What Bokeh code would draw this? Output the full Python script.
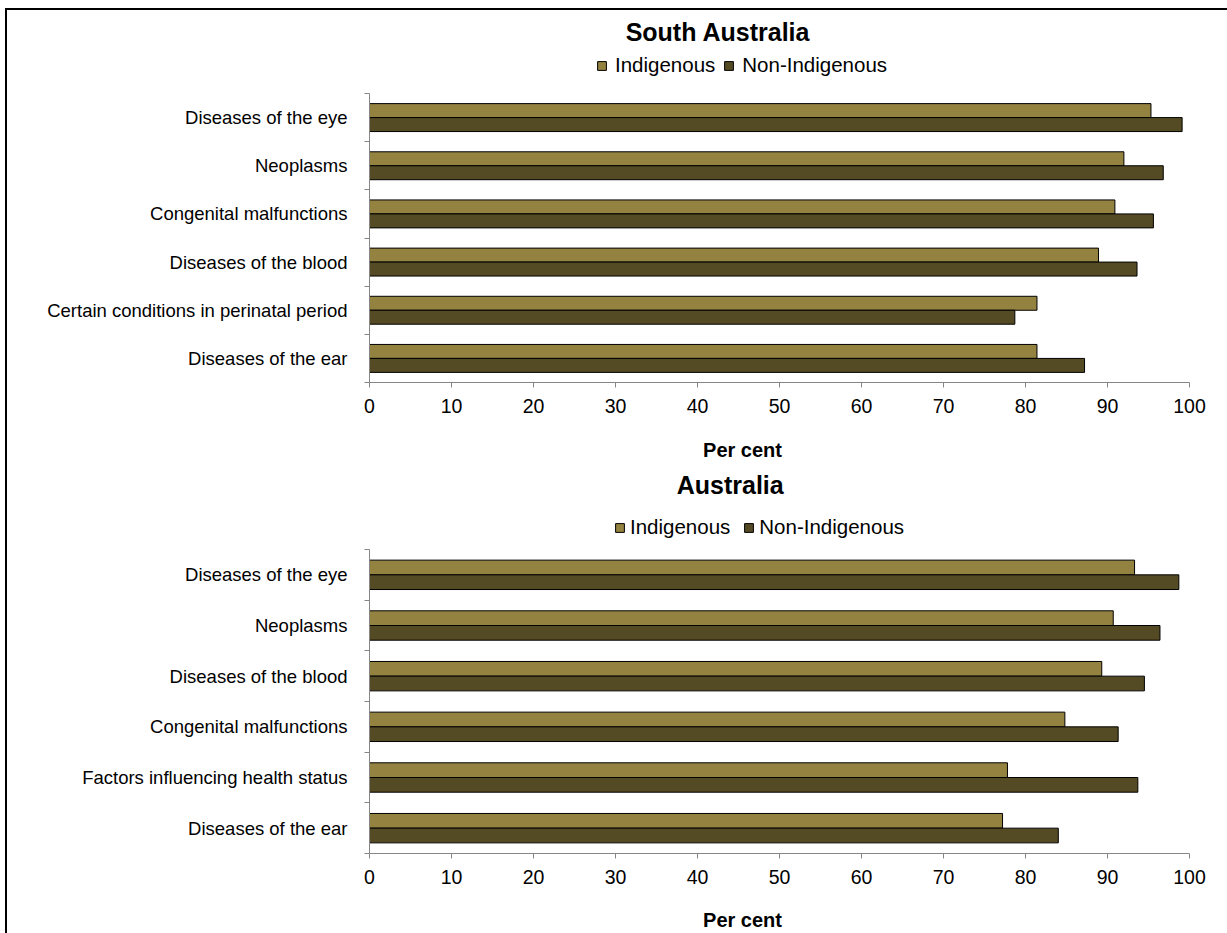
from bokeh.plotting import figure
from bokeh.models import (Range1d, FixedTicker, Label, Legend, LegendItem,
                          ColumnDataSource)
from bokeh.transform import dodge
from bokeh.layouts import column
from bokeh.embed import file_html
from bokeh.resources import INLINE

# ---------------- data ----------------
series = ["Indigenous", "Non-Indigenous"]

sa_title = "South Australia"
sa_categories = ["Diseases of the eye", "Neoplasms", "Congenital malfunctions",
                 "Diseases of the blood", "Certain conditions in perinatal period",
                 "Diseases of the ear"]
sa_indigenous = [95.3, 92.0, 90.9, 88.9, 81.4, 81.4]
sa_non_indigenous = [99.1, 96.8, 95.6, 93.6, 78.7, 87.2]

au_title = "Australia"
au_categories = ["Diseases of the eye", "Neoplasms", "Diseases of the blood",
                 "Congenital malfunctions", "Factors influencing health status",
                 "Diseases of the ear"]
au_indigenous = [93.3, 90.7, 89.3, 84.8, 77.8, 77.2]
au_non_indigenous = [98.7, 96.4, 94.5, 91.3, 93.7, 84.0]

x_ticks = [0, 10, 20, 30, 40, 50, 60, 70, 80, 90, 100]
x_label = "Per cent"

IND_COLOR = "#948240"
NON_COLOR = "#544A24"
AXIS_COLOR = "#868686"
FONT = "Liberation Sans"
FIG_W = 1220


def make_chart(title, cats, ind, non, g):
    n = len(cats)
    # slot centre of each category: first category at the top
    slot = [n - 0.5 - i for i in range(n)]
    src = ColumnDataSource(dict(cat=cats, slot=slot, ind=ind, non=non))
    frame_h = g["H"] - g["bottom"]
    y_end = n * frame_h / g["plot_h"]   # extra room above the bars for title/legend
    p = figure(width=FIG_W, height=g["H"],
               x_range=Range1d(0, 100), y_range=Range1d(0, y_end),
               title=None, output_backend="svg", toolbar_location=None,
               min_border_left=g["left"], min_border_right=FIG_W - g["left"] - g["plot_w"],
               min_border_top=0, min_border_bottom=g["bottom"],
               outline_line_color=None, background_fill_color="white",
               border_fill_color="white")
    p.grid.visible = False

    r1 = p.hbar(y=dodge("slot", 0.145), left=0, right="ind",
                height=0.29, source=src, fill_color=IND_COLOR,
                line_color="black", line_width=1)
    r2 = p.hbar(y=dodge("slot", -0.145), left=0, right="non",
                height=0.29, source=src, fill_color=NON_COLOR,
                line_color="black", line_width=1)

    # x axis
    xa = p.xaxis[0]
    xa.ticker = FixedTicker(ticks=x_ticks)
    xa.axis_line_color = AXIS_COLOR
    xa.major_tick_line_color = AXIS_COLOR
    xa.major_tick_out = 5
    xa.major_tick_in = 0
    xa.minor_tick_line_color = None
    xa.major_label_text_font = FONT
    xa.major_label_text_font_size = "19.5px"
    xa.major_label_text_color = "black"
    xa.major_label_standoff = 11

    # y axis: labels at category centres, small ticks at category boundaries
    ya = p.yaxis[0]
    ya.bounds = (0, n)
    ya.ticker = FixedTicker(ticks=slot, minor_ticks=list(range(n + 1)))
    ya.major_label_overrides = {s: c for s, c in zip(slot, cats)}
    ya.axis_line_color = AXIS_COLOR
    ya.major_tick_line_color = None
    ya.major_tick_out = 0
    ya.major_tick_in = 0
    ya.minor_tick_line_color = AXIS_COLOR
    ya.minor_tick_out = 5
    ya.minor_tick_in = 0
    ya.major_label_text_font = FONT
    ya.major_label_text_font_size = "18.5px"
    ya.major_label_text_color = "black"
    ya.major_label_standoff = 17

    legend = Legend(items=[LegendItem(label=series[0], renderers=[r1]),
                           LegendItem(label=series[1], renderers=[r2])],
                    location=g["legend"], orientation="horizontal",
                    glyph_width=11, glyph_height=11,
                    label_standoff=g["ls"], spacing=g["sp"],
                    padding=0, margin=0, border_line_color=None,
                    background_fill_alpha=0,
                    label_text_font=FONT, label_text_font_size="20.5px",
                    label_text_color="black",
                    label_height=20, label_width=10)
    p.add_layout(legend)

    p.add_layout(Label(x=g["tx"], y=g["ty"], x_units="canvas", y_units="canvas",
                       text=title, text_font=FONT, text_font_style="bold",
                       text_font_size="25px", text_align="center",
                       text_baseline="alphabetic", text_color="black"))
    return p


def make_caption(text, g):
    # thin strip under a chart that carries its x-axis title
    c = figure(width=FIG_W, height=g["cap_h"], x_range=Range1d(0, 1), y_range=Range1d(0, 1),
               title=None, output_backend="svg", toolbar_location=None,
               x_axis_location=None, y_axis_location=None,
               min_border=0, outline_line_color=None,
               background_fill_color="white", border_fill_color="white")
    c.grid.visible = False
    c.add_layout(Label(x=g["px"], y=g["py"], x_units="canvas", y_units="canvas",
                       text=text, text_font=FONT, text_font_style="bold",
                       text_font_size="20px", text_align="center",
                       text_baseline="alphabetic", text_color="black"))
    return c


g_top = dict(H=420, plot_h=289, plot_w=820, left=362, bottom=48,
             tx=710.5, ty=21, legend=(227, 305), ls=8, sp=8,
             cap_h=36, px=735, py=19.5)
g_bot = dict(H=431, plot_h=304, plot_w=822, left=360, bottom=44,
             tx=722.7, ty=18, legend=(245, 314), ls=5, sp=13,
             cap_h=36, px=735, py=22)

p1 = make_chart(sa_title, sa_categories, sa_indigenous, sa_non_indigenous, g_top)
c1 = make_caption(x_label, g_top)
p2 = make_chart(au_title, au_categories, au_indigenous, au_non_indigenous, g_bot)
c2 = make_caption(x_label, g_bot)

layout = column(p1, c1, p2, c2, spacing=0,
                styles={"border-left": "2px solid black",
                        "border-top": "2px solid black",
                        "margin-left": "5px",
                        "margin-top": "8px"})

open("out.html", "w").write(file_html(layout, INLINE))
